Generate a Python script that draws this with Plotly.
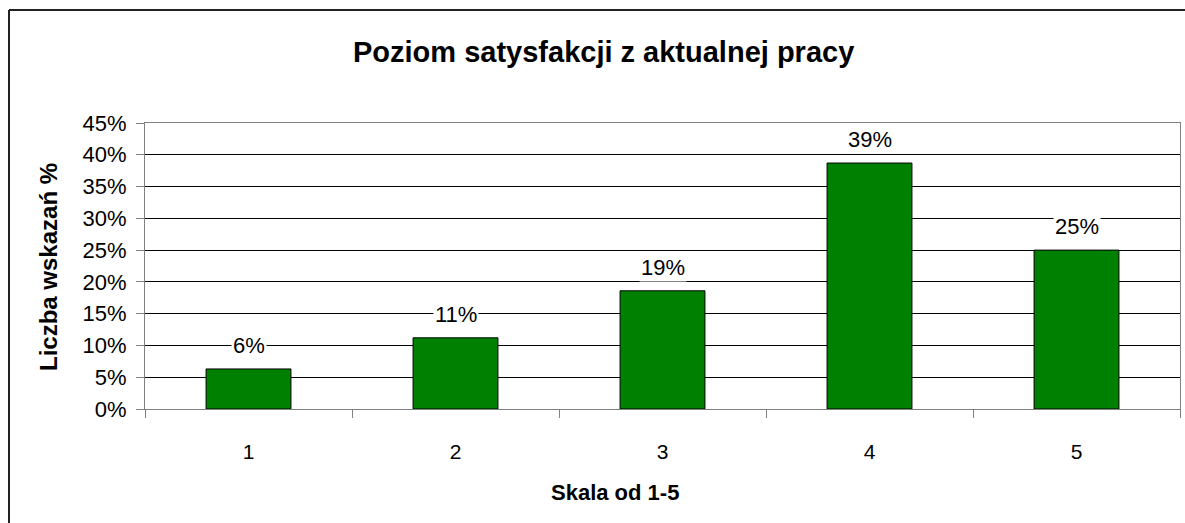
import plotly.graph_objects as go

categories = ["1", "2", "3", "4", "5"]
values = [0.063, 0.112, 0.186, 0.387, 0.250]
y_ticks = [0, 0.05, 0.10, 0.15, 0.20, 0.25, 0.30, 0.35, 0.40, 0.45]
y_ticklabels = ["0%", "5%", "10%", "15%", "20%", "25%", "30%", "35%", "40%", "45%"]
title_text = "Poziom satysfakcji z aktualnej pracy"
x_title = "Skala od 1-5"
y_title = "Liczba wskazań %"

W, H = 1185, 523
L, R, T, B = 145, 5, 123, 114
pw, ph = W - L - R, H - T - B

def px_x(x):
    return (x - L) / pw

def px_y(y):
    return (H - B - y) / ph

font_family = "Liberation Sans, Arial, sans-serif"

fig = go.Figure()
fig.add_trace(go.Bar(
    x=categories, y=values, width=0.41,
    marker=dict(color="#008000", line=dict(color="#000000", width=1)),
    hoverinfo="skip",
))

for i, v in enumerate(values):
    fig.add_annotation(
        x=i, y=v, xref="x", yref="y", text=f"{round(v*100)}%",
        showarrow=False, yanchor="bottom", yshift=9,
        bgcolor="white", borderpad=1,
        font=dict(family=font_family, size=22, color="#000"),
    )

fig.add_annotation(x=px_x(603), y=px_y(52), xref="paper", yref="paper",
                   xanchor="center", yanchor="middle",
                   text=f"<b>{title_text}</b>", showarrow=False,
                   font=dict(family=font_family, size=29, color="#000"))
fig.add_annotation(x=px_x(615), y=px_y(492), xref="paper", yref="paper",
                   xanchor="center", yanchor="middle",
                   text=f"<b>{x_title}</b>", showarrow=False,
                   font=dict(family=font_family, size=22, color="#000"))
fig.add_annotation(x=px_x(48), y=px_y(267), xref="paper", yref="paper",
                   xanchor="center", yanchor="middle",
                   text=f"<b>{y_title}</b>", showarrow=False, textangle=-90,
                   font=dict(family=font_family, size=24, color="#000"))

# outer chart border (left and top)
fig.add_shape(type="line", xref="paper", yref="paper",
              x0=px_x(9), x1=px_x(9), y0=px_y(10), y1=px_y(523),
              line=dict(color="#222", width=2))
fig.add_shape(type="line", xref="paper", yref="paper",
              x0=px_x(9), x1=px_x(1185), y0=px_y(10), y1=px_y(10),
              line=dict(color="#222", width=2))

fig.update_layout(
    width=W, height=H,
    margin=dict(l=L, r=R, t=T, b=B),
    paper_bgcolor="white", plot_bgcolor="white",
    showlegend=False,
    font=dict(family=font_family, size=21, color="#000"),
    xaxis=dict(
        type="category", range=[-0.5, 4.5], tickson="boundaries",
        ticks="outside", ticklen=8,
        tickcolor="#808080", showline=True, linecolor="#808080", linewidth=1,
        mirror=True, showgrid=False, ticklabelstandoff=24,
        tickfont=dict(size=21),
    ),
    yaxis=dict(
        range=[0, 0.45], tickvals=y_ticks, ticktext=y_ticklabels,
        ticks="outside", ticklen=8, tickcolor="#808080",
        showline=True, linecolor="#808080", linewidth=1, mirror=True,
        showgrid=True, gridcolor="#000000", gridwidth=1, zeroline=False,
        ticklabelstandoff=5, tickfont=dict(size=22),
    ),
)

fig.write_html("out.html", config={"displayModeBar": False},
               post_script="document.body.style.margin='0';")
